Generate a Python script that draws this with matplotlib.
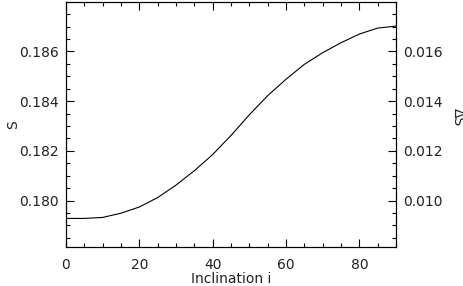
import matplotlib
matplotlib.use("Agg")
import matplotlib.pyplot as plt
from matplotlib.ticker import MultipleLocator, FormatStrFormatter

# Data
inclination = [0, 5, 10, 15, 20, 25, 30, 35, 40, 45, 50, 55, 60, 65, 70, 75, 80, 85, 90]
s_values = [0.17928, 0.17928, 0.17932, 0.17949, 0.17974, 0.18012, 0.18062, 0.18120,
            0.18185, 0.18262, 0.18345, 0.18422, 0.18488, 0.18548, 0.18595, 0.18635,
            0.18670, 0.18694, 0.18702]
x_ticks = [0, 20, 40, 60, 80]
s_ticks = [0.180, 0.182, 0.184, 0.186]
ds_ticks = [0.010, 0.012, 0.014, 0.016]
ds_offset = 0.170

fig = plt.figure(figsize=(4.64, 2.86), dpi=100)
ax = fig.add_axes([66/464, 1-246.5/286, (396-66)/464, (246.5-1.5)/286])
ax.plot(inclination, s_values, color="black", lw=0.8)

ylo, yhi = 0.17815, 0.18801
ax.set_xlim(0, 90)
ax.set_ylim(ylo, yhi)
ax.set_xticks(x_ticks)
ax.set_yticks(s_ticks)
ax.xaxis.set_minor_locator(MultipleLocator(5))
ax.yaxis.set_minor_locator(MultipleLocator(0.0005))
ax.yaxis.set_major_formatter(FormatStrFormatter("%.3f"))

tkw = dict(direction="in", color="black", width=0.8)
ax.tick_params(axis="x", which="major", length=6, top=True, pad=8, labelsize=10, **tkw)
ax.tick_params(axis="x", which="minor", length=3, top=True, **tkw)
ax.tick_params(axis="y", which="major", length=6, right=False, pad=5, labelsize=10, **tkw)
ax.tick_params(axis="y", which="minor", length=3, right=False, **tkw)
for sp in ax.spines.values():
    sp.set_linewidth(0.8)

ax2 = ax.twinx()
ax2.set_ylim(ylo - ds_offset, yhi - ds_offset)
ax2.set_yticks(ds_ticks)
ax2.yaxis.set_minor_locator(MultipleLocator(0.0005))
ax2.yaxis.set_major_formatter(FormatStrFormatter("%.3f"))
ax2.tick_params(axis="y", which="major", length=6, pad=5, labelsize=10, **tkw)
ax2.tick_params(axis="y", which="minor", length=3, **tkw)
for sp in ax2.spines.values():
    sp.set_linewidth(0.8)

for t in ax.get_xticklabels() + ax.get_yticklabels() + ax2.get_yticklabels():
    t.set_color("#222222")

ax.set_xlabel("Inclination i", fontsize=10, labelpad=0, color="#222222")
fig.text(13/464, 1-125/286, "S", rotation=90, ha="center", va="center", fontsize=10, color="#222222")
fig.text(458/464, 1-117/286, "ΔS", rotation=-90, ha="center", va="center", fontsize=10, color="#222222")

fig.savefig("out.png", dpi=100)
